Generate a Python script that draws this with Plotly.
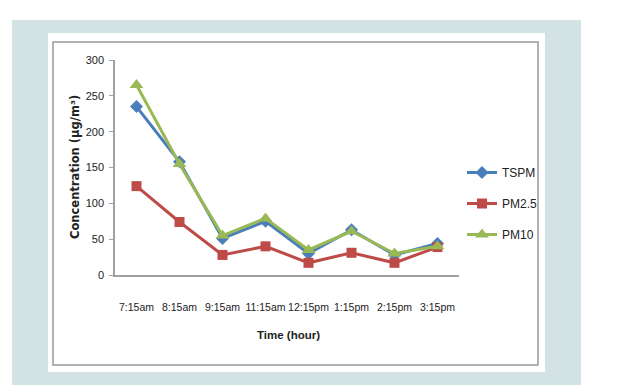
import plotly.graph_objects as go

categories = ["7:15am", "8:15am", "9:15am", "11:15am", "12:15pm", "1:15pm", "2:15pm", "3:15pm"]
tspm = [235, 158, 51, 75, 30, 63, 28, 44]
pm25 = [124, 74, 28, 40, 17, 31, 17, 39]
pm10 = [265, 155, 55, 79, 35, 61, 30, 40]
y_ticks = [0, 50, 100, 150, 200, 250, 300]

OFF = 8  # page body margin
W, H = 625 - OFF, 385 - OFF
# target pixel positions in the window
L, R, T, B = 115, 459, 60, 275
pw, ph = R - L, B - T

def px(x):
    return (x - L) / pw

def py(y):
    return (B - y) / ph

FONT = "Liberation Sans, Arial, sans-serif"

fig = go.Figure()
series = [
    ("TSPM", tspm, "#4a7ebb", "diamond", 10),
    ("PM2.5", pm25, "#be4b48", "square", 10),
    ("PM10", pm10, "#98b954", "triangle-up", 12),
]
for name, vals, col, sym, sz in series:
    fig.add_trace(go.Scatter(
        x=categories, y=vals, name=name, mode="lines+markers", legendgroup=name,
        line=dict(color=col, width=3),
        marker=dict(symbol=sym, size=sz, color=col),
    ))

shapes = [
    dict(type="rect", xref="paper", yref="paper", x0=px(12), x1=px(581), y0=py(390), y1=py(20),
         fillcolor="#d3e2e2", line=dict(width=0), layer="below"),
    dict(type="rect", xref="paper", yref="paper", x0=px(48), x1=px(545), y0=py(372), y1=py(33),
         fillcolor="white", line=dict(width=0), layer="below"),
    dict(type="rect", xref="paper", yref="paper", x0=px(53), x1=px(538), y0=py(365), y1=py(42),
         fillcolor="rgba(0,0,0,0)", line=dict(color="#999999", width=1.5), layer="below"),
]

annotations = [
    dict(text="<b>Concentration (µg/m³)</b>", xref="paper", yref="paper", x=px(75), y=py(167),
         xanchor="center", yanchor="middle",
         textangle=-90, showarrow=False, font=dict(family="DejaVu Sans, sans-serif", size=11.5, color="#222")),
    dict(text="<b>Time (hour)</b>", xref="paper", yref="paper", x=px(288), y=py(335),
         xanchor="center", yanchor="middle",
         showarrow=False, font=dict(family=FONT, size=11.5, color="#222")),
]

fig.update_layout(
    width=W, height=H,
    margin=dict(l=L - OFF, r=W - (R - OFF), t=T - OFF, b=H - (B - OFF), pad=0, autoexpand=False),
    paper_bgcolor="white", plot_bgcolor="rgba(0,0,0,0)",
    shapes=shapes, annotations=annotations,
    showlegend=True,
    legend=dict(x=px(462), y=py(158), xanchor="left", yanchor="top", traceorder="grouped",
                bgcolor="rgba(0,0,0,0)", font=dict(family=FONT, size=12, color="#222"),
                tracegroupgap=12, itemwidth=30),
    xaxis=dict(type="category", range=[-0.5, 7.5], showgrid=False, zeroline=False,
               showline=True, linecolor="#a0a0a0", linewidth=1.5, ticks="", tickangle=0,
               automargin=False,
               tickfont=dict(family=FONT, size=10.5, color="#222"), ticklabelstandoff=22),
    yaxis=dict(range=[0, 300], tickvals=y_ticks, showgrid=False, zeroline=False,
               showline=True, linecolor="#a0a0a0", linewidth=1.5, ticks="outside",
               ticklen=4, tickcolor="#a0a0a0", automargin=False, ticklabelstandoff=3,
               tickfont=dict(family=FONT, size=11, color="#222")),
)

fig.write_html("out.html")
